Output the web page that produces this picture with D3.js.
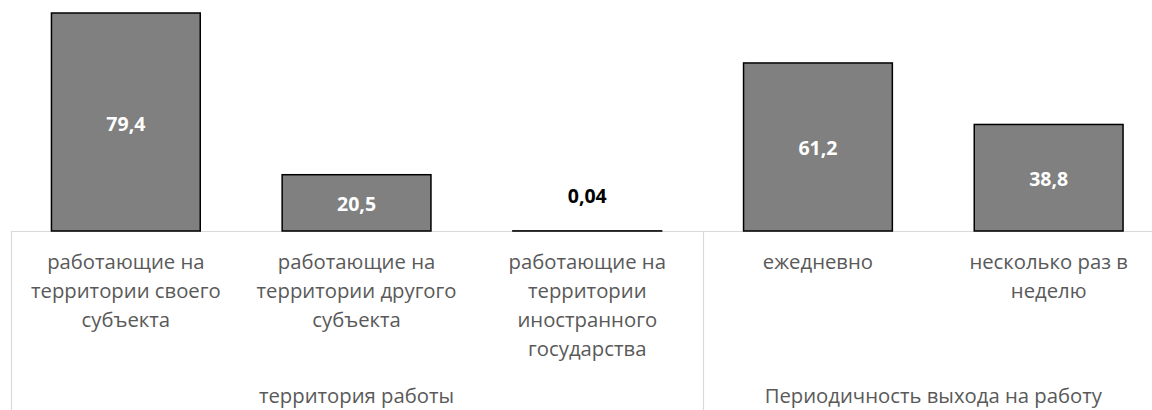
<!DOCTYPE html>
<html><head><meta charset="utf-8">
<script src="https://cdn.jsdelivr.net/npm/d3@7"></script>
<style>body{margin:0;background:#fff;} svg{display:block;}</style>
</head><body>
<svg id="c" width="1152" height="410"></svg>
<script>
const categories = [
  "работающие на\nтерритории своего\nсубъекта",
  "работающие на\nтерритории другого\nсубъекта",
  "работающие на\nтерритории\nиностранного\nгосударства",
  "ежедневно",
  "несколько раз в\nнеделю"
];
const values = [79.4, 20.5, 0.04, 61.2, 38.8];
const valueLabels = ["79,4", "20,5", "0,04", "61,2", "38,8"];
const groups = ["территория работы", "Периодичность выхода на работу"];
const groupSizes = [3, 2];

const svg = d3.select("#c");
const baseY = 231, x0 = 10.5, x1 = 1164;
const x = d3.scaleBand().domain(d3.range(categories.length)).range([x0, x1]).paddingInner(0.355).paddingOuter(0.1775);
const y = d3.scaleLinear().domain([0, 79.4]).range([baseY, 13]);

const font = "'Open Sans', sans-serif";
const catSize = 20.3;

// axis line
svg.append("line").attr("x1", 11).attr("x2", 1152).attr("y1", baseY + 0.5).attr("y2", baseY + 0.5)
  .attr("stroke", "#d9d9d9").attr("stroke-width", 1.2);

// group separators
let idx = 0;
const step = x.step();
const bounds = [0];
groupSizes.forEach(s => { idx += s; bounds.push(idx); });
bounds.slice(0, -1).forEach(b => {
  const xb = Math.round(x0 + b * step) + 0.5;
  svg.append("line").attr("x1", xb).attr("x2", xb).attr("y1", baseY).attr("y2", 410)
    .attr("stroke", "#d9d9d9").attr("stroke-width", 1.2);
});

// bars
svg.selectAll("rect.bar").data(values).join("rect").attr("class", "bar")
  .attr("x", (d, i) => x(i)).attr("width", x.bandwidth())
  .attr("y", d => y(d)).attr("height", d => baseY - y(d))
  .attr("fill", "#808080").attr("stroke", "#000").attr("stroke-width", 1.5);

// value labels
svg.selectAll("text.val").data(values).join("text").attr("class", "val")
  .attr("x", (d, i) => x(i) + x.bandwidth() / 2)
  .attr("y", d => (baseY - y(d)) > 30 ? (y(d) + baseY) / 2 + 8.5 : y(d) - 28)
  .attr("text-anchor", "middle")
  .attr("font-family", font).attr("font-weight", "bold").attr("font-size", 19.5)
  .attr("fill", d => (baseY - y(d)) > 30 ? "#fff" : "#000")
  .text((d, i) => valueLabels[i]);

// category labels
categories.forEach((c, i) => {
  const t = svg.append("text").attr("text-anchor", "middle")
    .attr("font-family", font).attr("font-size", catSize).attr("fill", "#595959");
  c.split("\n").forEach((line, j) => {
    t.append("tspan").attr("x", x(i) + x.bandwidth() / 2).attr("y", 269 + j * 29).text(line);
  });
});

// group labels
groups.forEach((g, gi) => {
  const cx = x0 + (bounds[gi] + bounds[gi + 1]) / 2 * step;
  svg.append("text").attr("x", cx).attr("y", 403).attr("text-anchor", "middle")
    .attr("font-family", font).attr("font-size", catSize).attr("fill", "#595959").text(g);
});
</script>
</body></html>
